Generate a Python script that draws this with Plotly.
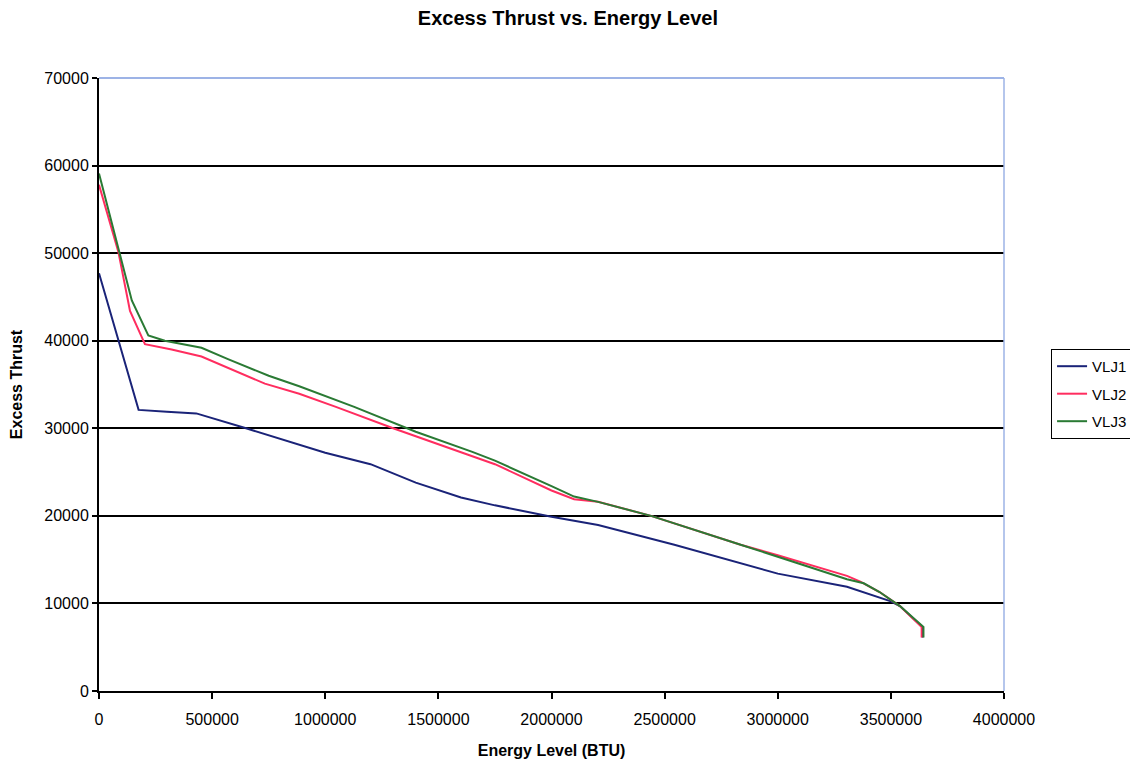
import plotly.graph_objects as go

# data
energy_vlj1 = [0, 85000, 108000, 175000, 300000, 430000, 650000, 1000000, 1200000,
               1400000, 1600000, 1750000, 2000000, 2206000, 2543000, 3000000, 3306000,
               3497000, 3540000, 3640000, 3640000]
thrust_vlj1 = [47700, 40200, 37900, 32100, 31900, 31700, 30000, 27200, 25900,
               23800, 22100, 21200, 19900, 18950, 16700, 13400, 11900,
               10260, 9700, 7300, 6100]

energy_vlj2 = [0, 86000, 137000, 203000, 321000, 453000, 733000, 885000, 1047000,
               1300000, 1650000, 1750000, 2000000, 2100000, 2206000, 2440000, 2836000,
               3000000, 3306000, 3365000, 3450000, 3540000, 3636000, 3636000]
thrust_vlj2 = [57800, 50100, 43400, 39600, 39000, 38200, 35100, 33950, 32450,
               30000, 26800, 25900, 22900, 21900, 21600, 20000, 16700,
               15500, 13150, 12500, 11300, 9700, 7300, 6100]

energy_vlj3 = [0, 93000, 145000, 218000, 291000, 453000, 570000, 750000, 885000,
               1128000, 1400000, 1650000, 1750000, 2000000, 2100000, 2206000, 2440000,
               2836000, 3000000, 3306000, 3380000, 3450000, 3540000, 3644000, 3644000]
thrust_vlj3 = [59100, 50000, 44600, 40600, 40000, 39200, 37900, 36000, 34800,
               32450, 29600, 27300, 26300, 23400, 22200, 21600, 20000,
               16700, 15300, 12770, 12300, 11300, 9700, 7300, 6100]

x_ticks = [0, 500000, 1000000, 1500000, 2000000, 2500000, 3000000, 3500000, 4000000]
y_ticks = [0, 10000, 20000, 30000, 40000, 50000, 60000, 70000]

series = [
    ("VLJ1", energy_vlj1, thrust_vlj1, "#1a2378"),
    ("VLJ2", energy_vlj2, thrust_vlj2, "#ff2d5f"),
    ("VLJ3", energy_vlj3, thrust_vlj3, "#2a7a34"),
]

FONT = "Liberation Sans, Arial, sans-serif"

fig = go.Figure()
for name, xs, ys, color in series:
    fig.add_trace(go.Scatter(
        x=xs, y=ys, mode="lines", name=name, legendgroup=name,
        line=dict(color=color, width=2),
    ))

# light blue top/right plot border
fig.add_shape(type="line", xref="paper", yref="paper", x0=0, x1=1, y0=1, y1=1,
              line=dict(color="#9db3e6", width=2), layer="above")
fig.add_shape(type="line", xref="paper", yref="paper", x0=1, x1=1, y0=0, y1=1,
              line=dict(color="#9db3e6", width=1.5), layer="above")

fig.update_layout(
    width=1138, height=761,
    margin=dict(l=91, r=142, t=70, b=78),
    paper_bgcolor="white", plot_bgcolor="white",
    font=dict(family=FONT, size=16, color="black"),
    title=dict(text="<b>Excess Thrust vs. Energy Level</b>", x=0.492, xanchor="center",
               y=0.987, yanchor="middle", font=dict(size=20)),
    showlegend=True,
    legend=dict(x=1.052, y=0.558, xanchor="left", yanchor="top",
                bordercolor="black", borderwidth=1, bgcolor="white",
                font=dict(size=15), tracegroupgap=5, itemwidth=30),
    xaxis=dict(
        range=[0, 4000000], tickvals=x_ticks, ticktext=[str(v) for v in x_ticks],
        showgrid=False, zeroline=False, showline=True, linecolor="black", linewidth=2,
        ticks="outside", ticklen=6, tickcolor="black", tickwidth=1.5,
        ticklabelstandoff=7, automargin=False,
        title=dict(text="<b>Energy Level (BTU)</b>", font=dict(size=16), standoff=18),
    ),
    yaxis=dict(
        range=[0, 70000], tickvals=y_ticks, ticktext=[str(v) for v in y_ticks],
        showgrid=True, gridcolor="black", gridwidth=1.5,
        zeroline=False, showline=True, linecolor="black", linewidth=2,
        ticks="outside", ticklen=5, tickcolor="black", tickwidth=1.5,
        automargin=False,
        title=dict(text="<b>Excess Thrust</b>", font=dict(size=16), standoff=18),
    ),
)

fig.write_html("out.html")
